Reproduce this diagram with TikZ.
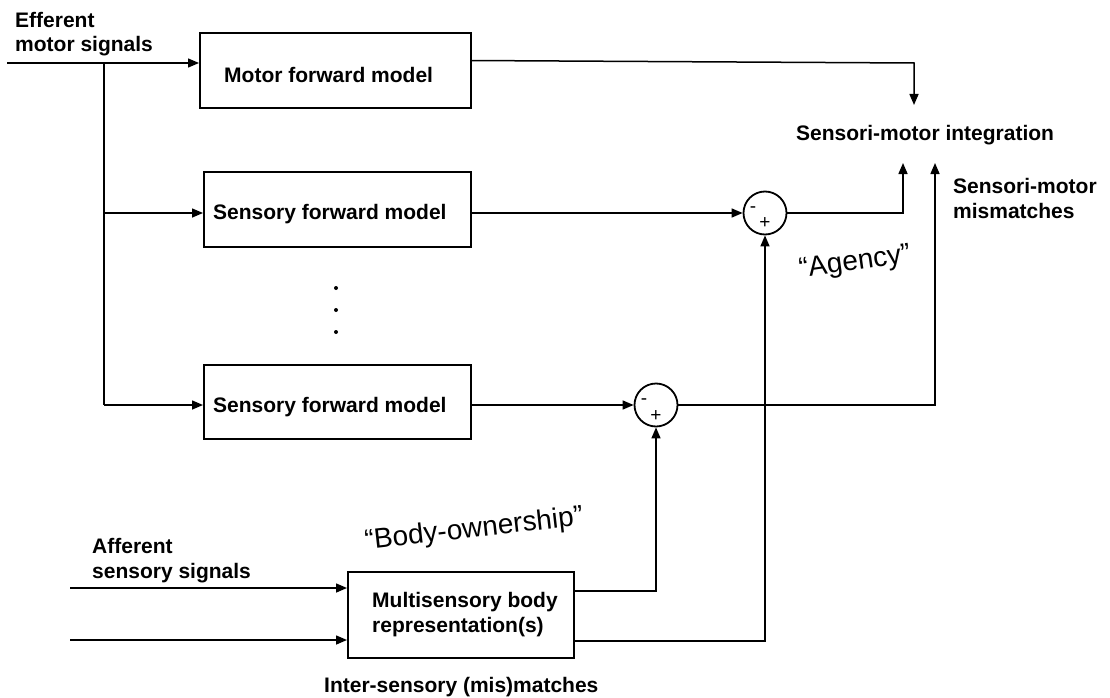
\documentclass[tikz,border=0pt]{standalone}
\usepackage{fontspec}
\setmainfont{Liberation Sans}
\usetikzlibrary{arrows.meta}
\begin{document}
\begin{tikzpicture}[x=1pt,y=-1pt,
  every node/.style={font=\fontsize{21}{24.5}\selectfont\bfseries},
  blk/.style={draw, line width=2pt, anchor=north west, inner sep=0pt},
  sumc/.style={draw, circle, line width=1.8pt, minimum size=43pt, inner sep=0pt},
  sign/.style={font=\fontsize{19}{19}\selectfont, inner sep=0pt},
  conn/.style={line width=1.5pt},
  arr/.style={conn, -{Triangle[length=11pt,width=9pt]}},
  lbl/.style={anchor=base west, align=left, inner sep=0pt},
  quote/.style={font=\fontsize{28}{28}\selectfont, inner sep=0pt},
]
\useasboundingbox (0,0) rectangle (1110,698);

% labels (base = baseline of last line)
\node[lbl] (eff) at (15,52) {Efferent\\motor signals};
\node[lbl] (aff) at (92,578) {Afferent\\sensory signals};
\node[lbl] (smi) at (796,140) {Sensori-motor integration};
\node[lbl] (smm) at (953,218) {Sensori-motor\\mismatches};
\node[lbl] (ism) at (324,692) {Inter-sensory (mis)matches};
\node[quote, rotate=8] (agency) at (855,263) {“Agency”};
\node[quote, rotate=6.5] (body) at (474,530) {“Body-ownership”};

% boxes
\node[blk, minimum width=271pt, minimum height=75pt] (motor) at (199,32) {};
\node[blk, minimum width=267pt, minimum height=75pt] (sfm1) at (203,171) {};
\node[blk, minimum width=267pt, minimum height=74pt] (sfm2) at (203,364) {};
\node[blk, minimum width=226pt, minimum height=86pt] (msb) at (347,571) {};
\node[lbl] (motorT) at (224,83) {Motor forward model};
\node[lbl] (sfm1T) at (213,219) {Sensory forward model};
\node[lbl] (sfm2T) at (213,412) {Sensory forward model};
\node[lbl] (msbT) at (372,632) {Multisensory body\\representation(s)};

% comparators
\node[sumc] (c1) at (765,213) {};
\node[sumc] (c2) at (656,405) {};
\node[sign] (c1m) at (753,210) {-};
\node[sign] (c1p) at (765,223) {+};
\node[sign] (c2m) at (644,402) {-};
\node[sign] (c2p) at (656,416) {+};

% dots
\foreach \yy in {288,310,332} \fill (336,\yy) circle (2pt);

% coordinates
\coordinate (effin) at (7,63);
\coordinate (br) at (104,63);
\coordinate (b1) at (104,213);
\coordinate (b2) at (104,405);
\coordinate (mo) at (470,60.5);
\coordinate (mc) at (914,63);
\coordinate (smiA) at (914,105);
\coordinate (u1) at (903,163);
\coordinate (u2) at (935,163);
\coordinate (a1) at (70,588);
\coordinate (a2) at (70,640);
\coordinate (m1) at (573,591);
\coordinate (m2) at (573,641);

% connectors
\draw[arr] (effin) -- (effin -| motor.west);
\draw[conn] (br) -- (b2);
\draw[arr] (b1) -- (b1 -| sfm1.west);
\draw[arr] (b2) -- (b2 -| sfm2.west);
\draw[arr] (mo) -- (mc) -- (smiA);
\draw[arr] (sfm1.east |- c1) -- (c1.west);
\draw[arr] (sfm2.east |- c2) -- (c2.west);
\draw[arr] (c1.east) -| (u1);
\draw[arr] (c2.east) -| (u2);
\draw[arr] (a1) -- (a1 -| msb.west);
\draw[arr] (a2) -- (a2 -| msb.west);
\draw[arr] (m1) -| (c2.south);
\draw[arr] (m2) -| (c1.south);
\end{tikzpicture}
\end{document}
